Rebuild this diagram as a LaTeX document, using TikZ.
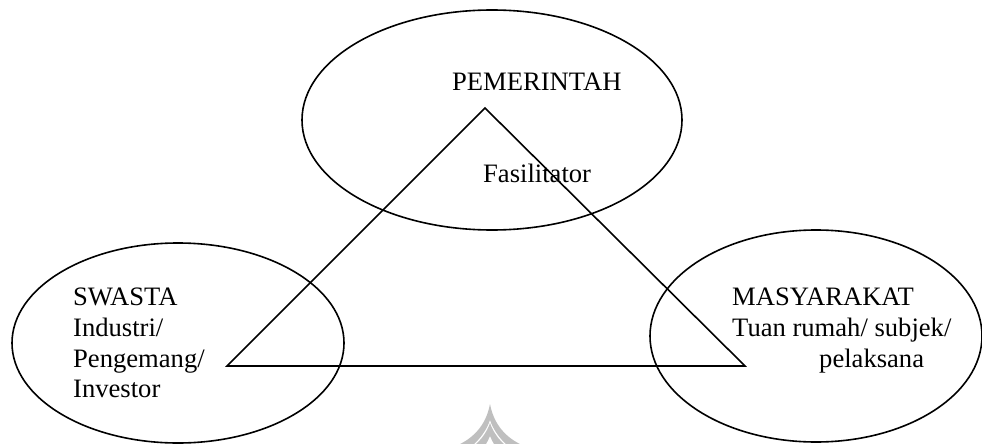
\documentclass[tikz,border=0pt]{standalone}
\usepackage{fontspec}
\setmainfont{Liberation Serif}
\begin{document}
\begin{tikzpicture}[x=1pt,y=-1pt,
  oval/.style={draw,line width=1.6pt},
  edge/.style={draw,line width=1.6pt,line join=miter},
  lbl/.style={inner sep=0pt,anchor=base west,font=\fontsize{26.6}{30}\selectfont},
  emblem/.style={fill=black!25,draw=none}]
\useasboundingbox (0,0) rectangle (982,444);
% the three actors
\draw[oval] (492,120) ellipse [x radius=190, y radius=110];
\draw[oval] (178,343) ellipse [x radius=166, y radius=100];
\draw[oval] (816,336) ellipse [x radius=166, y radius=106];
% triangle linking them
\coordinate (top) at (485,108);
\coordinate (left) at (227,366);
\coordinate (right) at (745,366);
\draw[edge] (top) -- (left) -- (right) -- cycle;
% labels
\node[lbl] (pem) at (452,90) {PEMERINTAH};
\node[lbl] (fas) at (483,182) {Fasilitator};
\node[lbl] (sw1) at (73,305) {SWASTA};
\node[lbl] (sw2) at (73,336) {Industri/};
\node[lbl] (sw3) at (73,367) {Pengemang/};
\node[lbl] (sw4) at (73,397) {Investor};
\node[lbl] (ma1) at (732,305) {MASYARAKAT};
\node[lbl] (ma2) at (732,336) {Tuan rumah/ subjek/};
\node[lbl] (ma3) at (819,367) {pelaksana};
% faint emblem at the foot of the page
\fill[emblem] (490,404) .. controls (486,425) and (474,438) .. (456,446)
  -- (472,446) .. controls (481,438) and (487,429) .. (490,420)
  .. controls (493,429) and (499,438) .. (508,446)
  -- (524,446) .. controls (506,438) and (494,425) .. (490,404) -- cycle;
\fill[emblem] (490,423) .. controls (487,432) and (481,440) .. (474,446)
  -- (485,446) .. controls (487,442) and (489,439) .. (490,436)
  .. controls (491,439) and (493,442) .. (495,446)
  -- (506,446) .. controls (499,440) and (493,432) .. (490,423) -- cycle;
\end{tikzpicture}
\end{document}
